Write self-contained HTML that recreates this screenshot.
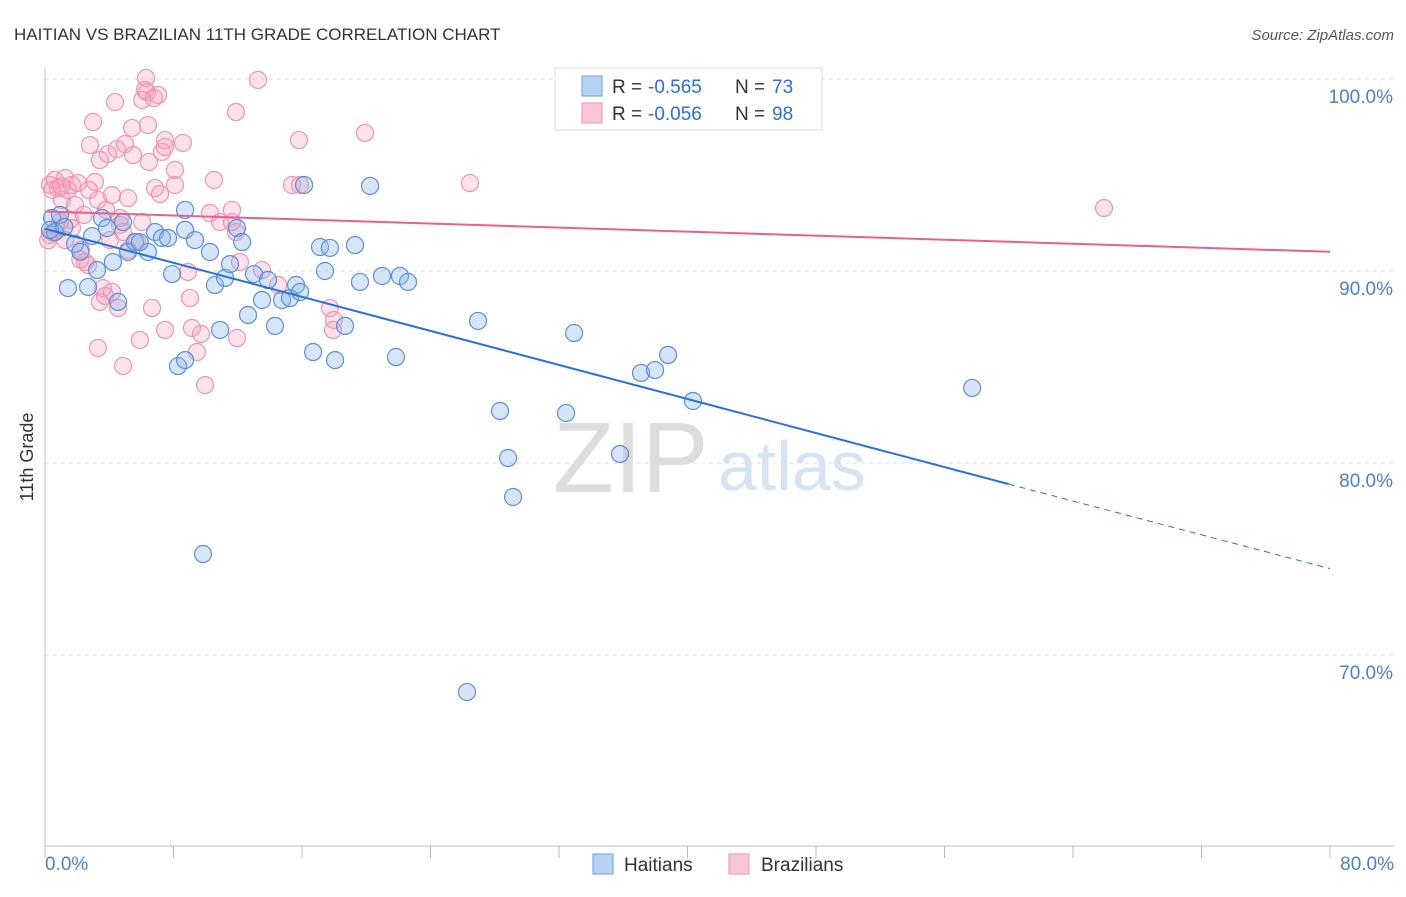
<!DOCTYPE html>
<html><head><meta charset="utf-8"><style>
body{margin:0;background:#fff;font-family:"Liberation Sans",sans-serif}
svg text{font-family:"Liberation Sans",sans-serif}
</style></head><body>
<svg id="c" width="1406" height="892">
<text x="14" y="40" font-size="17" fill="#333">HAITIAN VS BRAZILIAN 11TH GRADE CORRELATION CHART</text>
<text x="1394" y="40" font-size="15" fill="#555" font-style="italic" text-anchor="end">Source: ZipAtlas.com</text>
<text x="33" y="457" font-size="18" fill="#333" transform="rotate(-90 33 457)" text-anchor="middle">11th Grade</text>
<text x="553" y="492" font-size="100" fill="#ddd" font-family="Liberation Serif">ZIP</text>
<text x="718" y="490" font-size="70" fill="#d5e3f5">atlas</text>
<g id="grid"></g><g id="pts"></g><g id="lines"></g>
<g>
<rect x="555" y="68" width="267" height="62" fill="#fff" stroke="#ddd"/>
<rect x="582" y="76" width="20" height="20" fill="#b8d2f5" stroke="#6b9ee0"/>
<rect x="582" y="103" width="20" height="20" fill="#f8c6d6" stroke="#ec95b3"/>
<text x="612" y="93" font-size="19" fill="#333">R = </text>
<text x="648" y="93" font-size="19" fill="#2a6fdb">-0.565</text>
<text x="735" y="93" font-size="19" fill="#333">N = </text>
<text x="772" y="93" font-size="19" fill="#2a6fdb">73</text>
<text x="612" y="120" font-size="19" fill="#333">R = </text>
<text x="648" y="120" font-size="19" fill="#2a6fdb">-0.056</text>
<text x="735" y="120" font-size="19" fill="#333">N = </text>
<text x="772" y="120" font-size="19" fill="#2a6fdb">98</text>
</g>
<g>
<rect x="593" y="854" width="20" height="20" fill="#b8d2f5" stroke="#6b9ee0"/>
<text x="624" y="871" font-size="19" fill="#333">Haitians</text>
<rect x="729" y="854" width="20" height="20" fill="#f8c6d6" stroke="#ec95b3"/>
<text x="761" y="871" font-size="19" fill="#333">Brazilians</text>
</g>
</svg>
<script>
const xTicks=[0,10,20,30,40,50,60,70,80];
const yTicks=[70,80,90,100];
const haitianX=[0.44,0.62,0.93,1.43,1.87,2.68,2.93,3.24,3.55,3.86,4.23,4.55,4.86,5.17,5.60,6.41,6.85,7.28,7.66,8.28,7.91,8.72,8.72,9.34,9.84,10.27,10.58,10.90,11.21,11.52,11.95,12.27,12.64,13.01,13.51,13.88,14.32,14.76,15.25,15.63,15.88,16.13,16.69,17.12,17.43,17.74,18.06,18.68,19.30,19.61,20.24,20.98,21.85,22.10,22.60,26.27,26.96,28.33,28.83,29.14,32.44,32.94,35.80,37.11,37.98,38.79,40.34,57.72,0.31,8.72,1.2,2.2,5.9];
const haitianY=[92.76,92.03,92.92,89.11,91.41,89.17,91.82,90.05,92.76,92.24,90.47,88.39,92.55,90.99,91.51,90.99,92.03,91.72,91.72,85.05,89.84,92.14,85.36,91.61,75.26,90.99,89.27,86.93,89.64,90.36,92.24,91.51,87.71,89.84,88.49,89.53,87.14,88.49,88.59,89.27,88.91,94.48,85.78,91.25,90.00,91.20,85.36,87.14,91.35,89.43,94.43,89.74,85.52,89.74,89.43,68.07,87.40,82.71,80.26,78.23,82.60,86.77,80.47,84.69,84.84,85.63,83.23,83.91,92.14,93.18,92.3,91.0,91.5];
const brazilX=[0.31,0.44,0.62,0.81,1.06,1.25,1.43,1.68,1.87,2.05,1.56,1.68,2.24,2.49,2.74,2.99,3.11,2.80,3.30,3.42,3.61,3.80,3.92,4.05,4.17,4.36,4.48,4.55,4.67,4.86,4.98,5.17,5.42,5.48,5.72,5.91,6.05,6.23,6.29,6.41,6.47,6.66,6.85,7.04,7.16,7.28,7.47,7.47,8.09,8.59,8.90,9.03,9.15,9.46,9.71,9.96,10.27,10.52,10.90,11.64,11.89,11.95,12.14,13.26,13.51,14.51,15.38,15.81,17.74,17.93,17.99,19.92,26.46,65.93,4.86,5.17,2.42,3.42,4.67,8.09,3.30,1.25,0.31,0.93,2.68,3.74,4.17,6.05,7.47,6.35,6.78,11.89,15.88,11.64,0.2,0.5,1.0,2.2];
const brazilY=[94.48,94.22,94.74,94.32,93.70,94.84,94.22,94.48,93.44,94.58,92.66,92.24,91.09,90.47,94.22,97.76,94.64,96.56,85.99,88.39,89.11,93.18,96.09,91.61,93.96,98.80,96.35,88.07,92.76,85.05,96.61,93.80,97.45,96.04,91.51,86.41,98.91,99.43,100.05,97.60,95.68,88.07,94.32,99.17,94.01,96.20,86.93,96.46,95.26,96.67,89.95,88.59,87.03,85.78,86.72,84.06,93.02,94.74,92.55,93.18,98.28,86.51,90.47,99.95,90.05,89.27,94.48,96.82,88.07,86.93,87.45,97.19,94.58,93.28,92.03,91.09,92.92,95.78,92.40,94.48,93.70,91.61,91.88,92.55,90.31,88.70,88.91,92.55,96.82,99.32,99.01,92.03,94.48,92.55,91.6,92.0,94.4,90.6];
const blueTrend=[[0,92.2],[60,78.9],[80,74.5]];
const pinkTrend=[[0,93.1],[80,91.0]];
const NS='http://www.w3.org/2000/svg';
const X=v=>45+v/80*1285, Y=v=>79+(100-v)*19.2;
function mk(t,a,p){const e=document.createElementNS(NS,t);for(const k in a)e.setAttribute(k,a[k]);p.appendChild(e);return e;}
const g=document.getElementById('grid');
const ax=mk('line',{x1:45,y1:68,x2:45,y2:846,stroke:'#bbb'},g);


const bx=mk('line',{x1:45,y1:846,x2:1394,y2:846,stroke:'#bbb'},g);


yTicks.forEach(v=>{
 const l=mk('line',{x1:45,x2:1394,y1:Y(v),y2:Y(v),stroke:'#ddd','stroke-dasharray':'4,4'},g);
 
 
 const t=mk('text',{x:1393,y:Y(v)+24,'font-size':19,fill:'#4a7fd0','text-anchor':'end'},g);
 t.textContent=v.toFixed(1)+'%';
 
 
});
const topGrid=mk('line',{x1:45,x2:1394,y1:79,y2:79,stroke:'#ddd','stroke-dasharray':'4,4'},g);


for(let i=0;i<=10;i++){const x=45+i*128.5;
 const l=mk('line',{x1:x,x2:x,y1:846,y2:858,stroke:'#bbb'},g);
 
 }
[[0,'0.0%','start',45],[80,'80.0%','end',1394]].forEach(([v,s,a,x])=>{
 const t=mk('text',{x:x,y:870,'font-size':19,fill:'#4a7fd0','text-anchor':a},g);
 t.textContent=s;
 
 });
const p=document.getElementById('pts');
brazilX.forEach((v,i)=>{const c=mk('circle',{cx:X(v),cy:Y(brazilY[i]),r:8.5,fill:'rgba(244,160,190,0.3)',stroke:'#ec95b3','stroke-width':1.2},p);
 
 });
haitianX.forEach((v,i)=>{const c=mk('circle',{cx:X(v),cy:Y(haitianY[i]),r:8.5,fill:'rgba(140,180,235,0.35)',stroke:'#5b8fd6','stroke-width':1.2},p);
 
 });
const L=document.getElementById('lines');
const b1=mk('line',{x1:X(blueTrend[0][0]),y1:Y(blueTrend[0][1]),x2:X(blueTrend[1][0]),y2:Y(blueTrend[1][1]),stroke:'#2a6fdb','stroke-width':2},L);


const b2=mk('line',{x1:X(blueTrend[1][0]),y1:Y(blueTrend[1][1]),x2:X(blueTrend[2][0]),y2:Y(blueTrend[2][1]),stroke:'#2a6fdb','stroke-width':1,'stroke-dasharray':'6,5'},L);


const pl=mk('line',{x1:X(pinkTrend[0][0]),y1:Y(pinkTrend[0][1]),x2:X(pinkTrend[1][0]),y2:Y(pinkTrend[1][1]),stroke:'#e8608f','stroke-width':2},L);


</script>
</body></html>
